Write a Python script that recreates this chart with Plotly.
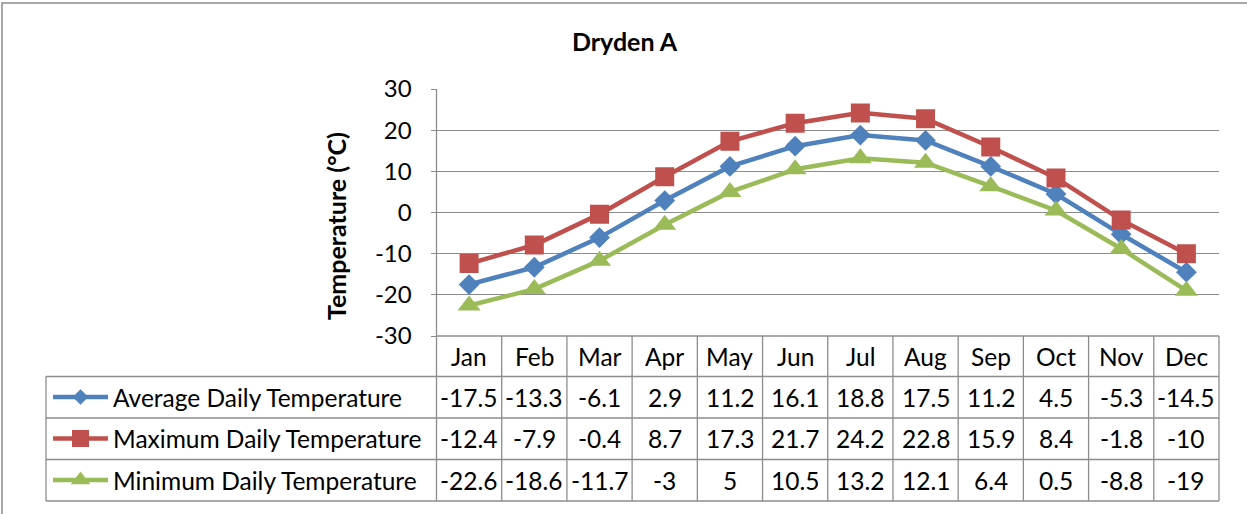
import plotly.graph_objects as go

months = ["Jan", "Feb", "Mar", "Apr", "May", "Jun", "Jul", "Aug", "Sep", "Oct", "Nov", "Dec"]
avg_temp = [-17.5, -13.3, -6.1, 2.9, 11.2, 16.1, 18.8, 17.5, 11.2, 4.5, -5.3, -14.5]
max_temp = [-12.4, -7.9, -0.4, 8.7, 17.3, 21.7, 24.2, 22.8, 15.9, 8.4, -1.8, -10]
min_temp = [-22.6, -18.6, -11.7, -3, 5, 10.5, 13.2, 12.1, 6.4, 0.5, -8.8, -19]
series_names = ["Average Daily Temperature", "Maximum Daily Temperature", "Minimum Daily Temperature"]
y_ticks = [-30, -20, -10, 0, 10, 20, 30]
title_text = "Dryden A"
y_title = "Temperature (°C)"

W, H = 1247, 514
FONT = "Lato"
GRID = "#8c8c8c"
colors = ["#4F81BD", "#C0504D", "#9BBB59"]
symbols = ["diamond", "square", "triangle-up"]
msizes = [16, 19, 20]
lsizes = [12, 17, 17]
series = [avg_temp, max_temp, min_temp]

# pixel layout
PL, PR, PT, PB = 436.5, 1219.0, 89.0, 336.0
TL = 46.0
row_lines = [376.5, 418.0, 459.5, 501.0]
row_centers = [397.0, 438.5, 480.0]
header_center = 356.0

fig = go.Figure()

for vals, name, c, s, ms in zip(series, series_names, colors, symbols, msizes):
    fig.add_trace(go.Scatter(
        x=months, y=vals, name=name, mode="lines+markers",
        line=dict(color=c, width=4.5),
        marker=dict(symbol=s, size=ms, color=c, line=dict(width=0)),
        xaxis="x", yaxis="y", showlegend=False, hoverinfo="skip",
    ))

# legend keys in table (overlay pixel axis)
for i, (c, s, ls) in enumerate(zip(colors, symbols, lsizes)):
    yc = row_centers[i]
    fig.add_trace(go.Scatter(
        x=[53, 108], y=[yc, yc], mode="lines", line=dict(color=c, width=4.5),
        xaxis="x2", yaxis="y2", showlegend=False, hoverinfo="skip"))
    fig.add_trace(go.Scatter(
        x=[80.5], y=[yc], mode="markers",
        marker=dict(symbol=s, size=ls, color=c, line=dict(width=0)),
        xaxis="x2", yaxis="y2", showlegend=False, hoverinfo="skip"))

shapes = []
def line(x0, y0, x1, y1, xref="x2", width=1.3, color=GRID):
    shapes.append(dict(type="line", xref=xref, yref="y2", x0=x0, y0=y0, x1=x1, y1=y1,
                       line=dict(color=color, width=width), layer="above"))

# outer frame
shapes.append(dict(type="rect", xref="x2", yref="y2", x0=2, y0=3, x1=1270, y1=540,
                   line=dict(color="#8c8c8c", width=1.5), layer="below"))
# table horizontal lines
line(PL, PB, PR, PB)
for yl in row_lines:
    line(TL, yl, PR, yl)
# table vertical lines
line(TL, row_lines[0], TL, row_lines[-1])
line(PL, PT, PL, row_lines[-1])
line(PR, PB, PR, row_lines[-1])
for k in range(1, len(months)):
    shapes.append(dict(type="line", xref="x", yref="y2", x0=k - 0.5, x1=k - 0.5,
                       y0=PB, y1=row_lines[-1], line=dict(color=GRID, width=1.3), layer="above"))

annotations = []
TF = dict(family=FONT, size=24.5, color="black")
for j, m in enumerate(months):
    annotations.append(dict(x=m, xref="x", y=header_center, yref="y2", text=m,
                            showarrow=False, font=TF, xanchor="center", yanchor="middle"))
    for i, vals in enumerate(series):
        annotations.append(dict(x=m, xref="x", y=row_centers[i], yref="y2",
                                text=f"{vals[j]:g}", showarrow=False, font=TF,
                                xanchor="center", yanchor="middle"))
for i, name in enumerate(series_names):
    annotations.append(dict(x=111, xref="x2", y=row_centers[i], yref="y2", text=name,
                            showarrow=False, font=TF, xanchor="left", yanchor="middle"))

annotations.append(dict(x=625, xref="x2", y=41, yref="y2", text=f"<b>{title_text}</b>",
                        showarrow=False, font=dict(family=FONT, size=25, color="black"),
                        xanchor="center", yanchor="middle"))
annotations.append(dict(x=336, xref="x2", y=226, yref="y2", text=f"<b>{y_title}</b>",
                        textangle=-90, showarrow=False,
                        font=dict(family=FONT, size=25, color="black"),
                        xanchor="center", yanchor="middle"))

fig.update_layout(
    width=W, height=H, margin=dict(l=0, r=0, t=0, b=0, autoexpand=False),
    paper_bgcolor="white", plot_bgcolor="rgba(0,0,0,0)",
    xaxis=dict(domain=[PL / W, PR / W], range=[-0.5, 11.5], showticklabels=False,
               showgrid=False, zeroline=False, showline=False, ticks="", anchor="y",
               automargin=False,
               categoryorder="array", categoryarray=months, type="category"),
    yaxis=dict(domain=[1 - PB / H, 1 - PT / H], range=[-30, 30], tickmode="array",
               tickvals=y_ticks, ticktext=[str(v) for v in y_ticks],
               showgrid=True, gridcolor=GRID, gridwidth=1.3, zeroline=False,
               showline=False, ticks="outside", ticklen=5, tickcolor=GRID, tickwidth=1.3,
               ticklabelstandoff=14, automargin=False,
               tickfont=dict(family=FONT, size=24, color="black"), anchor="x"),
    xaxis2=dict(domain=[0, 1], range=[0, W], visible=False, anchor="y2", fixedrange=True,
                automargin=False),
    yaxis2=dict(domain=[0, 1], range=[H, 0], visible=False, anchor="x2", fixedrange=True,
                automargin=False),
    shapes=shapes, annotations=annotations, showlegend=False,
)

fig.write_html("out.html", config={"displayModeBar": False},
               post_script="document.body.style.margin='0';document.body.style.padding='0';")
